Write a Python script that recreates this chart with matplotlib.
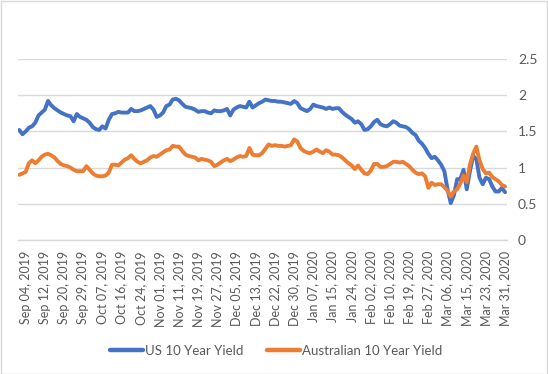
import matplotlib
matplotlib.use("Agg")
import matplotlib.pyplot as plt
from matplotlib.patches import Rectangle

tick_labels = ["Sep 04, 2019", "Sep 12, 2019", "Sep 20, 2019", "Sep 29, 2019",
               "Oct 07, 2019", "Oct 16, 2019", "Oct 24, 2019", "Nov 01, 2019",
               "Nov 11, 2019", "Nov 19, 2019", "Nov 27, 2019", "Dec 05, 2019",
               "Dec 13, 2019", "Dec 22, 2019", "Dec 30, 2019", "Jan 07, 2020",
               "Jan 15, 2020", "Jan 24, 2020", "Feb 02, 2020", "Feb 10, 2020",
               "Feb 19, 2020", "Feb 27, 2020", "Mar 06, 2020", "Mar 15, 2020",
               "Mar 23, 2020", "Mar 31, 2020"]

us_yield = [1.52, 1.46, 1.50, 1.55, 1.57, 1.62, 1.72, 1.76, 1.80, 1.92,
            1.86, 1.82, 1.79, 1.76, 1.74, 1.72, 1.71, 1.64, 1.74, 1.70,
            1.68, 1.66, 1.62, 1.56, 1.53, 1.52, 1.57, 1.54, 1.66, 1.74,
            1.75, 1.77, 1.76, 1.76, 1.76, 1.81, 1.78, 1.78, 1.79, 1.81,
            1.83, 1.85, 1.80, 1.70, 1.72, 1.76, 1.85, 1.87, 1.94, 1.95,
            1.93, 1.88, 1.84, 1.83, 1.82, 1.80, 1.77, 1.78, 1.78, 1.76,
            1.75, 1.79, 1.78, 1.78, 1.79, 1.81, 1.72, 1.80, 1.83, 1.85,
            1.84, 1.83, 1.91, 1.83, 1.86, 1.89, 1.91, 1.94, 1.93, 1.92,
            1.92, 1.91, 1.91, 1.90, 1.89, 1.88, 1.92, 1.89, 1.82, 1.80,
            1.78, 1.81, 1.87, 1.85, 1.84, 1.83, 1.81, 1.83, 1.81, 1.82,
            1.82, 1.77, 1.73, 1.70, 1.67, 1.62, 1.64, 1.60, 1.52, 1.53,
            1.57, 1.63, 1.66, 1.60, 1.58, 1.57, 1.60, 1.64, 1.62, 1.58,
            1.57, 1.56, 1.53, 1.48, 1.45, 1.37, 1.33, 1.27, 1.19, 1.13,
            1.15, 1.10, 1.04, 0.95, 0.70, 0.51, 0.62, 0.84, 0.84, 0.97,
            0.70, 0.95, 1.16, 1.12, 0.86, 0.77, 0.86, 0.84, 0.74, 0.67,
            0.67, 0.72, 0.66]

au_yield = [0.90, 0.92, 0.94, 1.06, 1.10, 1.06, 1.10, 1.15, 1.18, 1.19,
            1.17, 1.14, 1.09, 1.05, 1.03, 1.02, 1.00, 0.97, 0.95, 0.95,
            0.95, 1.02, 0.97, 0.92, 0.89, 0.88, 0.88, 0.89, 0.93, 1.04,
            1.04, 1.03, 1.07, 1.11, 1.13, 1.17, 1.12, 1.08, 1.06, 1.08,
            1.10, 1.14, 1.16, 1.15, 1.18, 1.21, 1.24, 1.25, 1.30, 1.29,
            1.29, 1.23, 1.18, 1.16, 1.15, 1.14, 1.10, 1.12, 1.11, 1.10,
            1.08, 1.02, 1.04, 1.07, 1.10, 1.12, 1.09, 1.11, 1.14, 1.16,
            1.15, 1.16, 1.27, 1.18, 1.17, 1.17, 1.20, 1.26, 1.32, 1.30,
            1.31, 1.30, 1.30, 1.29, 1.30, 1.31, 1.39, 1.36, 1.27, 1.23,
            1.21, 1.20, 1.22, 1.25, 1.22, 1.20, 1.24, 1.22, 1.18, 1.18,
            1.17, 1.14, 1.10, 1.06, 1.03, 0.98, 1.03, 0.97, 0.92, 0.91,
            0.96, 1.05, 1.05, 1.01, 1.01, 1.02, 1.05, 1.08, 1.08, 1.07,
            1.08, 1.05, 1.02, 0.97, 0.93, 0.91, 0.92, 0.88, 0.72, 0.79,
            0.76, 0.77, 0.77, 0.73, 0.68, 0.60, 0.67, 0.70, 0.78, 0.89,
            0.80, 1.04, 1.19, 1.29, 1.10, 0.98, 0.92, 0.93, 0.87, 0.84,
            0.81, 0.76, 0.74]

y_ticks = [0, 0.5, 1, 1.5, 2, 2.5]
y_tick_labels = ["0", "0.5", "1", "1.5", "2", "2.5"]

BLUE = "#4472C4"
ORANGE = "#ED7D31"
GRID = "#D9D9D9"
TXT = "#595959"

plt.rcParams['font.family'] = ['Lato', 'DejaVu Sans']

W, H = 548, 374
fig = plt.figure(figsize=(W / 100, H / 100), dpi=100)
ax = fig.add_axes([18 / W, (H - 240) / H, (507 - 18) / W, (240 - 59) / H])

x = list(range(len(us_yield)))
ax.plot(x, us_yield, color=BLUE, lw=2.8, solid_capstyle='round',
        solid_joinstyle='round', label="US 10 Year Yield", zorder=3)
ax.plot(x, au_yield, color=ORANGE, lw=2.8, solid_capstyle='round',
        solid_joinstyle='round', label="Australian 10 Year Yield", zorder=3)

ax.set_xlim(-0.4, len(us_yield) - 0.4)
ax.set_ylim(0, 2.5)

ax.yaxis.tick_right()
ax.set_yticks(y_ticks)
ax.set_yticklabels(y_tick_labels)
ax.tick_params(axis='y', length=0, pad=8, labelsize=10, labelcolor=TXT)

tick_pos = [2 + 6 * k for k in range(len(tick_labels))]
ax.set_xticks(tick_pos)
ax.set_xticklabels(tick_labels, rotation=90)
ax.tick_params(axis='x', length=0, pad=8, labelsize=9, labelcolor=TXT)

ax.grid(axis='y', color=GRID, lw=1)
ax.set_axisbelow(True)
for s in ["top", "left", "right"]:
    ax.spines[s].set_visible(False)
ax.spines["bottom"].set_color(GRID)
ax.spines["bottom"].set_linewidth(1)

leg = fig.legend(loc='center', bbox_to_anchor=(276 / W, 1 - 351 / H),
                 ncol=2, frameon=False, fontsize=9.5, handlelength=2.5,
                 handletextpad=0.2, columnspacing=1.75, labelcolor=TXT)
for h in leg.get_lines():
    h.set_linewidth(3.2)

fig.patches.append(Rectangle((0.5 / W, 0.5 / H), 1 - 1.5 / W, 1 - 1.5 / H,
                             transform=fig.transFigure, fill=False,
                             edgecolor=GRID, lw=1))

fig.savefig("out.png", dpi=100)
